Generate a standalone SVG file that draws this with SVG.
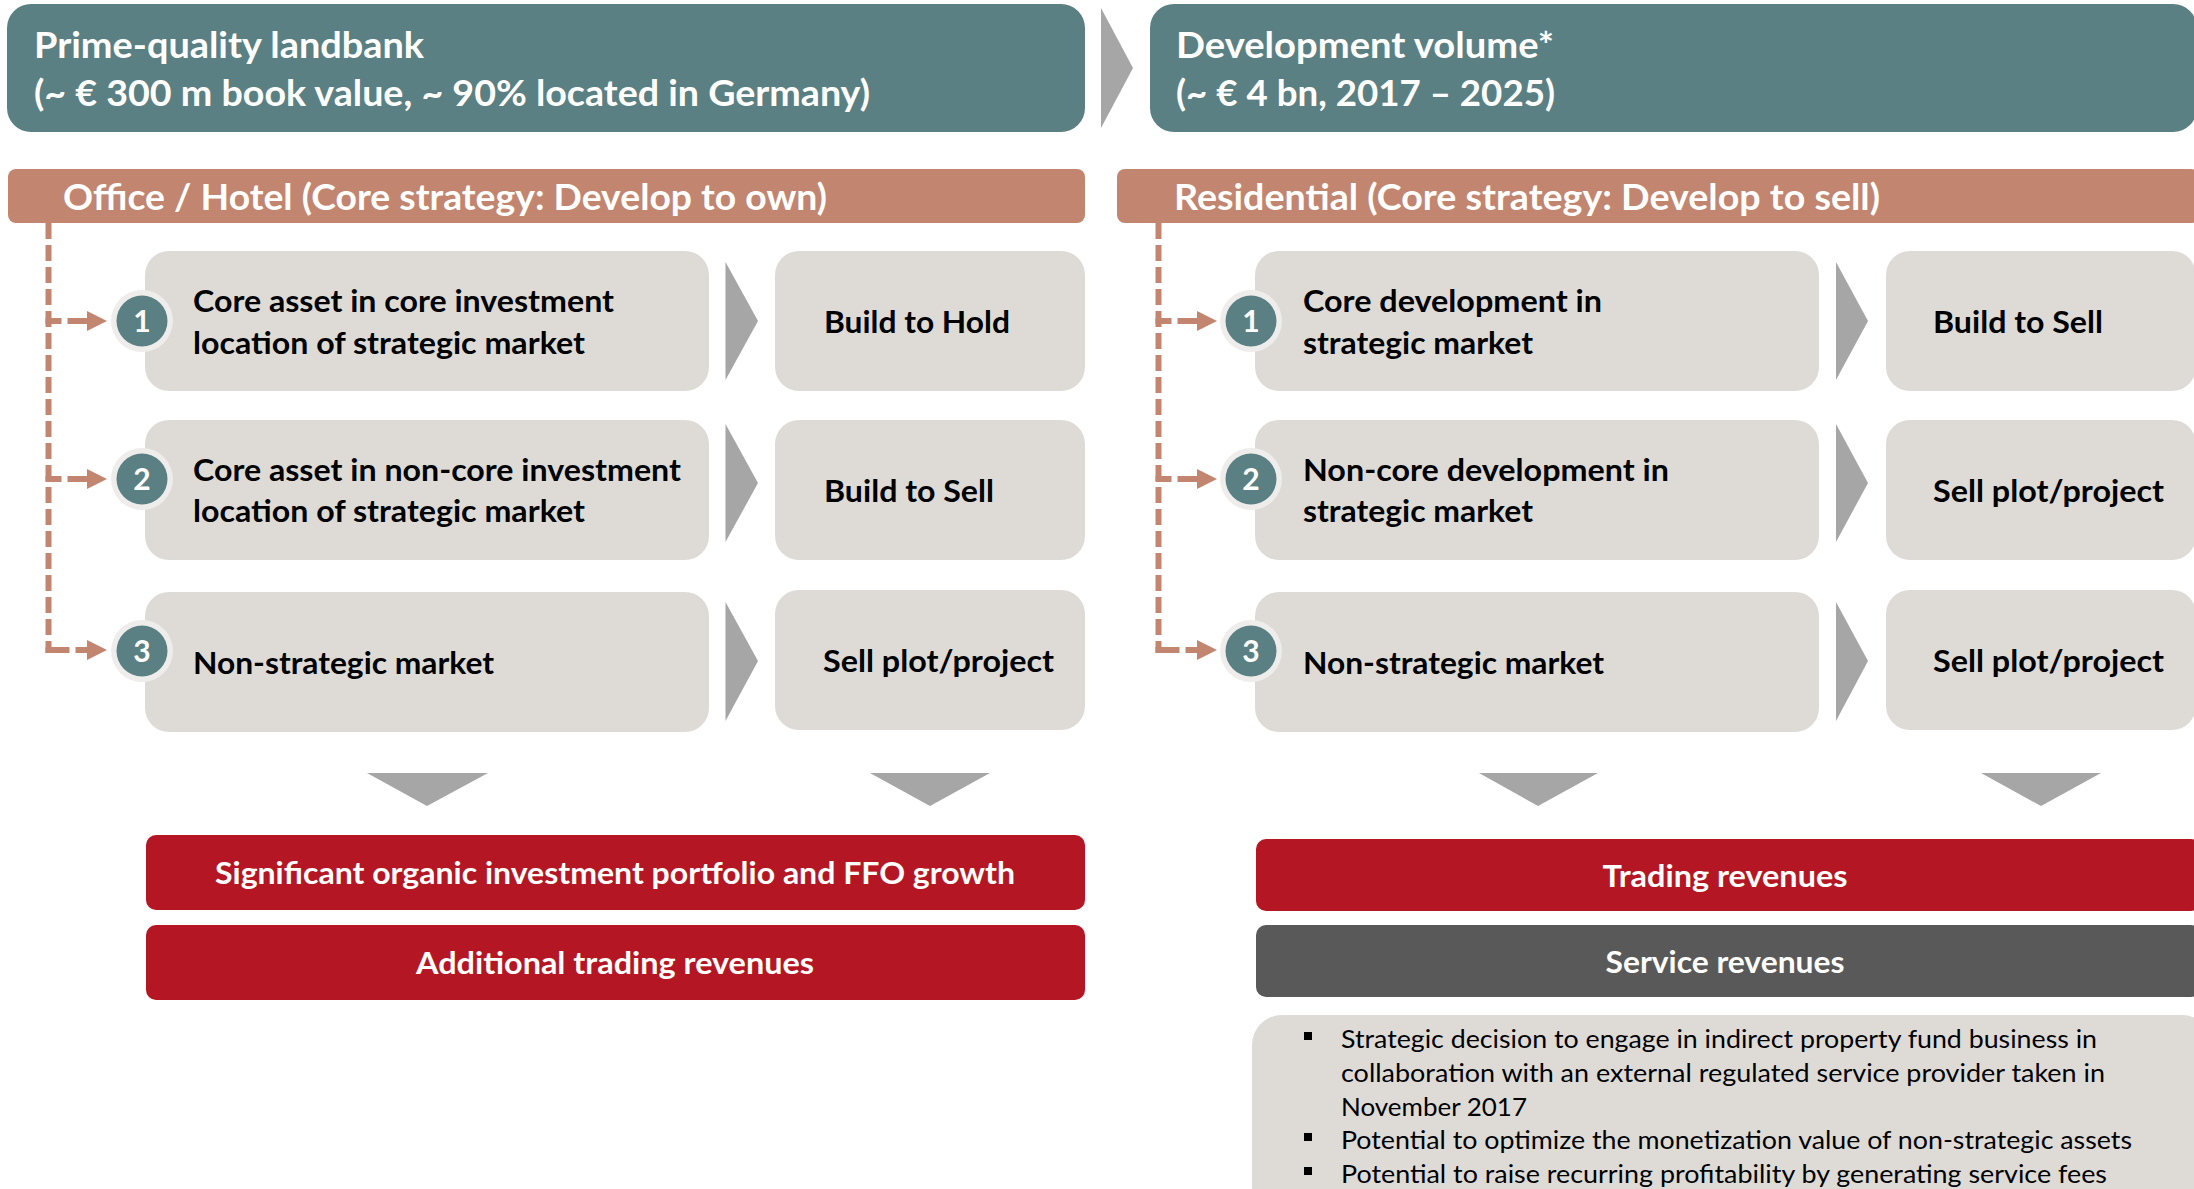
<svg xmlns="http://www.w3.org/2000/svg" width="2194" height="1189" viewBox="0 0 2194 1189">
<defs>
<style>
.teal{fill:#5B8083}
.salmon{fill:#C2856F}
.box{fill:#DEDBD7}
.chev{fill:#A6A6A6}
.red{fill:#B51623}
.dark{fill:#595959}
.halo{fill:#EEEDEB}
.num{fill:#5B8083}
.t{font-family:Lato,"Liberation Sans",sans-serif;font-weight:700}
.title{font-size:37px;fill:#fff}
.hdr{font-size:37px;fill:#fff}
.lbl{font-size:31px;fill:#000}
.bar{font-size:31px;fill:#fff}
.n{font-size:30px;fill:#fff}
.bul{font-family:Lato,"Liberation Sans",sans-serif;font-weight:400;font-size:25.5px;fill:#000}
.dash{fill:none;stroke:#C2856F;stroke-width:6}
</style>
<marker id="ah" markerUnits="userSpaceOnUse" markerWidth="20" markerHeight="20" viewBox="0 0 20 20" refX="0" refY="10" orient="auto">
<path d="M0,0 L20,10 L0,20 z" fill="#C2856F"/>
</marker>
</defs>

<!-- Top headers -->
<g id="landbank">
<rect class="teal" x="7" y="4" width="1078" height="128" rx="24"/>
<text class="t title" x="34" y="58" textLength="390" lengthAdjust="spacingAndGlyphs">Prime-quality landbank</text>
<text class="t title" x="34" y="106" textLength="836" lengthAdjust="spacingAndGlyphs">(~ € 300 m book value, ~ 90% located in Germany)</text>
</g>
<g id="top-chevron">
<polygon class="chev" points="1101,8 1133,68 1101,128"/>
</g>
<g id="devvolume">
<rect class="teal" x="1150" y="4" width="1047" height="128" rx="24"/>
<text class="t title" x="1176" y="58" textLength="378" lengthAdjust="spacingAndGlyphs">Development volume*</text>
<text class="t title" x="1176" y="106" textLength="379" lengthAdjust="spacingAndGlyphs">(~ € 4 bn, 2017 – 2025)</text>
</g>

<!-- Section headers -->
<g id="office-header">
<rect class="salmon" x="8" y="169" width="1077" height="54" rx="8"/>
<text class="t hdr" x="63" y="210" textLength="764" lengthAdjust="spacingAndGlyphs">Office / Hotel (Core strategy: Develop to own)</text>
</g>
<g id="residential-header">
<rect class="salmon" x="1117" y="169" width="1082" height="54" rx="8"/>
<text class="t hdr" x="1174" y="210" textLength="706" lengthAdjust="spacingAndGlyphs">Residential (Core strategy: Develop to sell)</text>
</g>

<!-- Connectors -->
<g id="connectors">
<path class="dash" d="M48.5,223 V653" stroke-dasharray="16 6"/>
<path class="dash" d="M45.5,321 H87" stroke-dasharray="16 6 19.5" marker-end="url(#ah)"/>
<path class="dash" d="M45.5,479 H87" stroke-dasharray="16 6 19.5" marker-end="url(#ah)"/>
<path class="dash" d="M45.5,650 H87" stroke-dasharray="24 6 11.5" marker-end="url(#ah)"/>
<path class="dash" d="M1158.5,223 V653" stroke-dasharray="16 6"/>
<path class="dash" d="M1155.5,321 H1197" stroke-dasharray="16 6 19.5" marker-end="url(#ah)"/>
<path class="dash" d="M1155.5,479 H1197" stroke-dasharray="16 6 19.5" marker-end="url(#ah)"/>
<path class="dash" d="M1155.5,650 H1197" stroke-dasharray="24 6 11.5" marker-end="url(#ah)"/>
<polygon class="chev" points="725.5,262 758,321 725.5,380"/>
<polygon class="chev" points="725.5,424 758,483 725.5,542"/>
<polygon class="chev" points="725.5,602 758,661 725.5,721"/>
<polygon class="chev" points="1836,262 1868,321 1836,380"/>
<polygon class="chev" points="1836,424 1868,483 1836,542"/>
<polygon class="chev" points="1836,602 1868,661 1836,721"/>
<polygon class="chev" points="367,773 488,773 427,806"/>
<polygon class="chev" points="870,773 990,773 930,806"/>
<polygon class="chev" points="1479,773 1598,773 1538,806"/>
<polygon class="chev" points="1981,773 2101,773 2041,806"/>
</g>

<!-- Left column boxes -->
<g id="oh-1">
<rect class="box" x="145" y="251" width="564" height="140" rx="24"/>
<text class="t lbl" x="193" y="312" textLength="421" lengthAdjust="spacingAndGlyphs">Core asset in core investment</text>
<text class="t lbl" x="193" y="354" textLength="392" lengthAdjust="spacingAndGlyphs">location of strategic market</text>
</g>
<g id="oh-2">
<rect class="box" x="145" y="420" width="564" height="140" rx="24"/>
<text class="t lbl" x="193" y="481" textLength="488" lengthAdjust="spacingAndGlyphs">Core asset in non-core investment</text>
<text class="t lbl" x="193" y="522" textLength="392" lengthAdjust="spacingAndGlyphs">location of strategic market</text>
</g>
<g id="oh-3">
<rect class="box" x="145" y="592" width="564" height="140" rx="24"/>
<text class="t lbl" x="193" y="674" textLength="301" lengthAdjust="spacingAndGlyphs">Non-strategic market</text>
</g>
<g id="oh-out-1">
<rect class="box" x="775" y="251" width="310" height="140" rx="24"/>
<text class="t lbl" x="824" y="333" textLength="186" lengthAdjust="spacingAndGlyphs">Build to Hold</text>
</g>
<g id="oh-out-2">
<rect class="box" x="775" y="420" width="310" height="140" rx="24"/>
<text class="t lbl" x="824" y="502" textLength="170" lengthAdjust="spacingAndGlyphs">Build to Sell</text>
</g>
<g id="oh-out-3">
<rect class="box" x="775" y="590" width="310" height="140" rx="24"/>
<text class="t lbl" x="823" y="672" textLength="231" lengthAdjust="spacingAndGlyphs">Sell plot/project</text>
</g>

<!-- Right column boxes -->
<g id="res-1">
<rect class="box" x="1255" y="251" width="564" height="140" rx="24"/>
<text class="t lbl" x="1303" y="312" textLength="299" lengthAdjust="spacingAndGlyphs">Core development in</text>
<text class="t lbl" x="1303" y="354" textLength="230" lengthAdjust="spacingAndGlyphs">strategic market</text>
</g>
<g id="res-2">
<rect class="box" x="1255" y="420" width="564" height="140" rx="24"/>
<text class="t lbl" x="1303" y="481" textLength="366" lengthAdjust="spacingAndGlyphs">Non-core development in</text>
<text class="t lbl" x="1303" y="522" textLength="230" lengthAdjust="spacingAndGlyphs">strategic market</text>
</g>
<g id="res-3">
<rect class="box" x="1255" y="592" width="564" height="140" rx="24"/>
<text class="t lbl" x="1303" y="674" textLength="301" lengthAdjust="spacingAndGlyphs">Non-strategic market</text>
</g>
<g id="res-out-1">
<rect class="box" x="1886" y="251" width="310" height="140" rx="24"/>
<text class="t lbl" x="1933" y="333" textLength="170" lengthAdjust="spacingAndGlyphs">Build to Sell</text>
</g>
<g id="res-out-2">
<rect class="box" x="1886" y="420" width="310" height="140" rx="24"/>
<text class="t lbl" x="1933" y="502" textLength="231" lengthAdjust="spacingAndGlyphs">Sell plot/project</text>
</g>
<g id="res-out-3">
<rect class="box" x="1886" y="590" width="310" height="140" rx="24"/>
<text class="t lbl" x="1933" y="672" textLength="231" lengthAdjust="spacingAndGlyphs">Sell plot/project</text>
</g>

<!-- Number badges -->
<g id="badge-oh-1"><circle class="halo" cx="142" cy="321" r="31"/><circle class="num" cx="142" cy="321" r="25.5"/><text class="t n" x="142" y="332" text-anchor="middle">1</text></g>
<g id="badge-oh-2"><circle class="halo" cx="142" cy="479" r="31"/><circle class="num" cx="142" cy="479" r="25.5"/><text class="t n" x="142" y="490" text-anchor="middle">2</text></g>
<g id="badge-oh-3"><circle class="halo" cx="142" cy="651" r="31"/><circle class="num" cx="142" cy="651" r="25.5"/><text class="t n" x="142" y="662" text-anchor="middle">3</text></g>
<g id="badge-res-1"><circle class="halo" cx="1251" cy="321" r="31"/><circle class="num" cx="1251" cy="321" r="25.5"/><text class="t n" x="1251" y="332" text-anchor="middle">1</text></g>
<g id="badge-res-2"><circle class="halo" cx="1251" cy="479" r="31"/><circle class="num" cx="1251" cy="479" r="25.5"/><text class="t n" x="1251" y="490" text-anchor="middle">2</text></g>
<g id="badge-res-3"><circle class="halo" cx="1251" cy="651" r="31"/><circle class="num" cx="1251" cy="651" r="25.5"/><text class="t n" x="1251" y="662" text-anchor="middle">3</text></g>

<!-- Outcome bars -->
<g id="ffo-growth">
<rect class="red" x="146" y="835" width="939" height="75" rx="10"/>
<text class="t bar" x="615" y="884" text-anchor="middle" textLength="800" lengthAdjust="spacingAndGlyphs">Significant organic investment portfolio and FFO growth</text>
</g>
<g id="add-trading">
<rect class="red" x="146" y="925" width="939" height="75" rx="10"/>
<text class="t bar" x="615" y="974" text-anchor="middle" textLength="398" lengthAdjust="spacingAndGlyphs">Additional trading revenues</text>
</g>
<g id="trading">
<rect class="red" x="1256" y="839" width="945" height="72" rx="10"/>
<text class="t bar" x="1725" y="887" text-anchor="middle" textLength="245" lengthAdjust="spacingAndGlyphs">Trading revenues</text>
</g>
<g id="service">
<rect class="dark" x="1256" y="925" width="945" height="72" rx="10"/>
<text class="t bar" x="1725" y="973" text-anchor="middle" textLength="239" lengthAdjust="spacingAndGlyphs">Service revenues</text>
</g>

<!-- Service notes -->
<g id="service-notes">
<rect class="box" x="1252" y="1015" width="960" height="220" rx="30"/>
<rect x="1304" y="1032" width="8" height="8" fill="#000"/>
<rect x="1304" y="1133" width="8" height="8" fill="#000"/>
<rect x="1304" y="1167" width="8" height="8" fill="#000"/>
<text class="bul" x="1341" y="1048" textLength="756" lengthAdjust="spacingAndGlyphs">Strategic decision to engage in indirect property fund business in</text>
<text class="bul" x="1341" y="1082" textLength="764" lengthAdjust="spacingAndGlyphs">collaboration with an external regulated service provider taken in</text>
<text class="bul" x="1341" y="1115.5" textLength="186" lengthAdjust="spacingAndGlyphs">November 2017</text>
<text class="bul" x="1341" y="1149" textLength="791" lengthAdjust="spacingAndGlyphs">Potential to optimize the monetization value of non-strategic assets</text>
<text class="bul" x="1341" y="1183" textLength="766" lengthAdjust="spacingAndGlyphs">Potential to raise recurring profitability by generating service fees</text>
</g>
</svg>
